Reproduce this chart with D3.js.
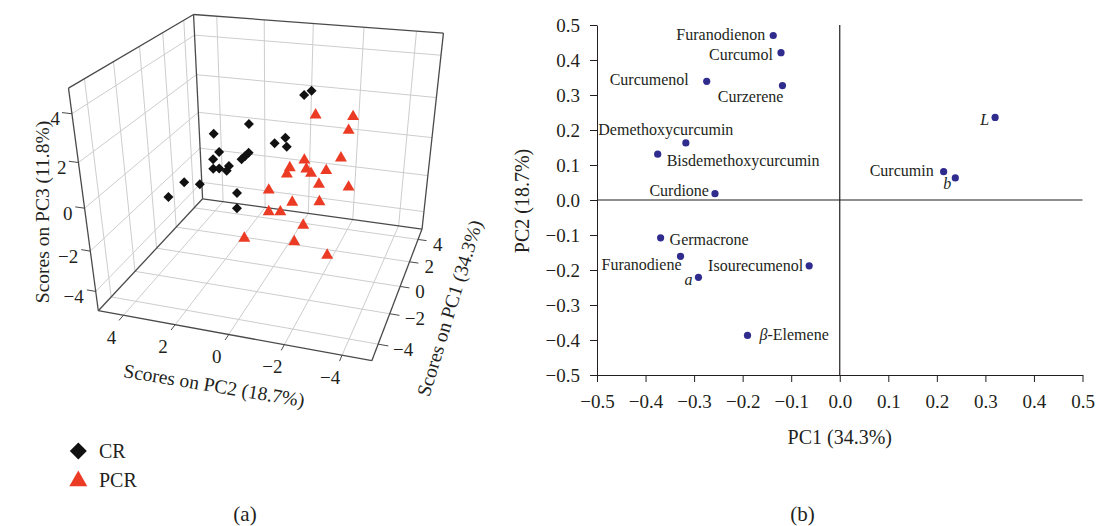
<!DOCTYPE html>
<html>
<head>
<meta charset="utf-8">
<script src="https://cdn.jsdelivr.net/npm/d3@7"></script>
<style>
  body { margin: 0; background: #fff; }
  text { font-family: "Liberation Serif", "Times New Roman", serif; fill: #231f20; }
</style>
</head>
<body>
<svg width="1096" height="526"></svg>
<script>
// ---------- panel (a): PCA scores ----------
var scoreTicks = [-4, -2, 0, 2, 4];
var crPC1 = [2.5, 2.2, 1.0, 0.5, 1.5, 2.0, 1.8, -0.5, 0.0, 0.8, 0.6, 0.4, -1.0, -0.8, -0.6, -0.2, -1.5, -1.2, -2.0, 0.2, -0.3];
var crPC2 = [-0.68, -0.48, 1.28, 2.50, 0.44, 0.17, 0.05, 1.91, 2.36, 1.24, 1.31, 1.38, 1.96, 1.81, 1.60, 1.66, 2.91, 2.43, 3.34, 1.52, 1.35];
var crPC3 = [2.76, 2.65, 1.55, 1.13, 0.51, 0.60, 0.26, 0.80, 0.15, 0.26, 0.18, 0.10, 0.24, 0.17, 0.00, 0.02, -0.31, -0.48, -0.83, -1.50, -1.98];
var pcrPC1 = [3.0, 3.5, 3.2, 1.5, 2.8, 1.0, 0.5, 1.2, 1.0, 2.0, 1.5, 2.5, -0.5, 0.0, 1.0, -1.0, -0.8, -1.5, -3.0, -2.5, -3.0];
var pcrPC2 = [-0.73, -2.09, -2.01, -0.74, -1.85, -0.32, -0.36, -0.91, -1.15, -1.48, -1.34, -2.28, 0.02, -0.73, -1.51, -0.14, -0.52, -1.59, 0.09, -1.56, -2.87];
var pcrPC3 = [1.41, 1.30, 0.74, -0.14, -0.49, -0.34, -0.40, -0.41, -0.49, -0.80, -1.26, -1.77, -0.73, -1.47, -1.86, -1.49, -1.54, -1.60, -1.65, -1.80, -1.87];

// ---------- panel (b): loadings ----------
var compounds = ["Furanodienon", "Curcumol", "Curcumenol", "Curzerene", "Demethoxycurcumin", "Bisdemethoxycurcumin", "Curdione", "Germacrone", "Furanodiene", "a", "Isourecumenol", "\u03b2-Elemene", "L", "Curcumin", "b"];
var loadPC1 = [-0.137, -0.121, -0.274, -0.118, -0.317, -0.375, -0.257, -0.369, -0.328, -0.291, -0.063, -0.190, 0.320, 0.214, 0.238];
var loadPC2 = [0.470, 0.421, 0.339, 0.327, 0.163, 0.131, 0.018, -0.108, -0.161, -0.221, -0.188, -0.387, 0.236, 0.081, 0.063];
var loadTicks = d3.range(-5, 6).map(function(d) { return d / 10; });

// label placement next to each dot: anchor, dx, dy
var labelPos = [["end", -8, -1], ["end", -8, 2], ["end", -18, -2], ["end", 1, 11], ["middle", -20, -13],
  ["start", 9, 7], ["end", -6, -3], ["start", 9, 2], ["end", 1, 8], ["end", -6, 2], ["end", -6, 0],
  ["start", 12, -1], ["end", -6, 2], ["end", -10, -1], ["middle", -8, 6]];
var italic = ["a", "b", "L"];

var svg = d3.select("svg");

// the 3D frame as seen in the picture: unit cube corners -> screen
var frame = [
  [[0, 1, 0], [98.3, 310.7]],
  [[0, 0, 0], [372, 360.5]],
  [[1, 0, 0], [422, 229.3]],
  [[1, 1, 0], [202.5, 198.7]],
  [[0, 1, 1], [68.3, 88.3]],
  [[1, 1, 1], [193.8, 14.5]],
  [[1, 0, 1], [443.3, 33]]
];

function solve(A, b) {
  var n = b.length, i, j, k;
  for (i = 0; i < n; i++) {
    var m = i;
    for (k = i + 1; k < n; k++) if (Math.abs(A[k][i]) > Math.abs(A[m][i])) m = k;
    var t = A[i]; A[i] = A[m]; A[m] = t;
    t = b[i]; b[i] = b[m]; b[m] = t;
    for (k = i + 1; k < n; k++) {
      var f = A[k][i] / A[i][i];
      for (j = i; j < n; j++) A[k][j] -= f * A[i][j];
      b[k] -= f * b[i];
    }
  }
  var x = [];
  for (i = n - 1; i >= 0; i--) {
    var s = b[i];
    for (j = i + 1; j < n; j++) s -= A[i][j] * x[j];
    x[i] = s / A[i][i];
  }
  return x;
}

// least squares fit of a perspective camera (DLT)
function fitProjection(pts) {
  var rows = [], rhs = [];
  pts.forEach(function(p) {
    var X = p[0][0], Y = p[0][1], Z = p[0][2], u = p[1][0], v = p[1][1];
    rows.push([X, Y, Z, 1, 0, 0, 0, 0, -u * X, -u * Y, -u * Z]); rhs.push(u);
    rows.push([0, 0, 0, 0, X, Y, Z, 1, -v * X, -v * Y, -v * Z]); rhs.push(v);
  });
  var M = [], r = [];
  for (var i = 0; i < 11; i++) {
    M[i] = [];
    r[i] = d3.sum(rows, function(row, k) { return row[i] * rhs[k]; });
    for (var j = 0; j < 11; j++) M[i][j] = d3.sum(rows, function(row) { return row[i] * row[j]; });
  }
  return solve(M, r);
}

var P = fitProjection(frame);
function proj(X, Y, Z) {
  var w = P[8] * X + P[9] * Y + P[10] * Z + 1;
  return [(P[0] * X + P[1] * Y + P[2] * Z + P[3]) / w, (P[4] * X + P[5] * Y + P[6] * Z + P[7]) / w];
}

var s1 = d3.scaleLinear().domain([-5, 5]).range([0, 1]),   // PC1: front -> back
    s2 = d3.scaleLinear().domain([-5, 5]).range([0, 1]),   // PC2: right -> left
    s3 = d3.scaleLinear().domain([-5, 5]).range([0, 1]);   // PC3: bottom -> top
function score(a, b, c) { return proj(s1(a), s2(b), s3(c)); }

var line = d3.line();
var pa = svg.append("g");
var grid = pa.append("g").attr("stroke", "#cdcdcd").attr("stroke-width", 1).attr("fill", "none");
function seg(g, a, b) { g.append("path").attr("d", line([proj(a[0], a[1], a[2]), proj(b[0], b[1], b[2])])); }

scoreTicks.forEach(function(t) {
  var a = s1(t), b = s2(t), c = s3(t);
  seg(grid, [a, 0, 0], [a, 1, 0]);   // floor
  seg(grid, [0, b, 0], [1, b, 0]);
  seg(grid, [a, 1, 0], [a, 1, 1]);   // left wall
  seg(grid, [0, 1, c], [1, 1, c]);
  seg(grid, [1, b, 0], [1, b, 1]);   // right wall
  seg(grid, [1, 0, c], [1, 1, c]);
});

var edges = pa.append("g").attr("stroke", "#4a4a4a").attr("stroke-width", 1.3).attr("fill", "none");
[[0, 1], [1, 2], [2, 3], [3, 0], [0, 4], [3, 5], [2, 6], [4, 5], [5, 6]].forEach(function(e) {
  seg(edges, frame[e[0]][0], frame[e[1]][0]);
});

var tk = pa.append("g").attr("stroke", "#4a4a4a").attr("stroke-width", 1);
var tl = pa.append("g").attr("font-size", 19);
var fmt = d3.format("d");
scoreTicks.forEach(function(t) {
  // PC3 on the front-left vertical edge
  seg(tk, [0, 1, s3(t)], [0, 1.035, s3(t)]);
  var p = proj(0, 1, s3(t));
  tl.append("text").attr("x", p[0] - 12).attr("y", p[1] + 5).attr("dy", "0.35em").attr("text-anchor", "end").text(fmt(t));
  // PC2 on the front floor edge
  seg(tk, [0, s2(t), 0], [-0.035, s2(t), 0]);
  p = proj(0, s2(t), 0);
  tl.append("text").attr("x", p[0] - 12).attr("y", p[1] + 22).attr("dy", "0.35em").attr("text-anchor", "middle").text(fmt(t));
  // PC1 on the right floor edge
  seg(tk, [s1(t), 0, 0], [s1(t), -0.035, 0]);
  p = proj(s1(t), 0, 0);
  tl.append("text").attr("x", p[0] + 15).attr("y", p[1] + 5).attr("dy", "0.35em").attr("text-anchor", "start").text(fmt(t));
});

pa.append("text").attr("transform", "translate(49,212) rotate(-90)").attr("text-anchor", "middle").attr("font-size", 19.5).text("Scores on PC3 (11.8%)");
pa.append("text").attr("transform", "translate(213,392) rotate(9.5)").attr("text-anchor", "middle").attr("font-size", 19.5).text("Scores on PC2 (18.7%)");
pa.append("text").attr("transform", "translate(456,310) rotate(-73)").attr("text-anchor", "middle").attr("font-size", 19.5).text("Scores on PC1 (34.3%)");

var diamond = d3.symbol(d3.symbolSquare, 50), tri = d3.symbol(d3.symbolTriangle, 62);
pa.selectAll(".cr").data(crPC1).enter().append("path")
  .attr("transform", function(d, i) { return "translate(" + score(crPC1[i], crPC2[i], crPC3[i]) + ") rotate(45)"; })
  .attr("d", diamond).attr("fill", "#111");
pa.selectAll(".pcr").data(pcrPC1).enter().append("path")
  .attr("transform", function(d, i) { return "translate(" + score(pcrPC1[i], pcrPC2[i], pcrPC3[i]) + ")"; })
  .attr("d", tri).attr("fill", "#ec3b24");

// legend
pa.append("path").attr("transform", "translate(78.3,451) rotate(45)").attr("d", d3.symbol(d3.symbolSquare, 144)).attr("fill", "#111");
pa.append("text").attr("x", 99).attr("y", 458).attr("font-size", 20).text("CR");
pa.append("path").attr("transform", "translate(78.3,481)").attr("d", d3.symbol(d3.symbolTriangle, 140)).attr("fill", "#ec3b24");
pa.append("text").attr("x", 99).attr("y", 487).attr("font-size", 20).text("PCR");
pa.append("text").attr("x", 245).attr("y", 521).attr("text-anchor", "middle").attr("font-size", 21).text("(a)");

// ---------- panel (b) ----------
var x = d3.scaleLinear().domain([-0.5, 0.5]).range([597, 1082.5]),
    y = d3.scaleLinear().domain([-0.5, 0.5]).range([375, 25]);
var pb = svg.append("g");

pb.append("g").attr("transform", "translate(0,375)")
  .call(d3.axisBottom(x).tickValues(loadTicks).tickFormat(d3.format(".1f")).tickSize(7).tickSizeOuter(0).tickPadding(13))
  .attr("font-family", null).attr("font-size", 19).attr("color", "#231f20");
pb.append("g").attr("transform", "translate(597,0)")
  .call(d3.axisLeft(y).tickValues(loadTicks).tickFormat(d3.format(".1f")).tickSize(7).tickSizeOuter(0).tickPadding(10))
  .attr("font-family", null).attr("font-size", 19).attr("color", "#231f20");

pb.append("line").attr("x1", x(0)).attr("x2", x(0)).attr("y1", y(0.5)).attr("y2", y(-0.5)).attr("stroke", "#231f20").attr("stroke-width", 1.2);
pb.append("line").attr("x1", x(-0.5)).attr("x2", x(0.5)).attr("y1", y(0)).attr("y2", y(0)).attr("stroke", "#231f20").attr("stroke-width", 1.2);

pb.selectAll(".dot").data(compounds).enter().append("circle")
  .attr("cx", function(d, i) { return x(loadPC1[i]); })
  .attr("cy", function(d, i) { return y(loadPC2[i]); })
  .attr("r", 3.6).attr("fill", "#302c8e");

pb.selectAll(".lab").data(compounds).enter().append("text")
  .attr("x", function(d, i) { return x(loadPC1[i]) + labelPos[i][1]; })
  .attr("y", function(d, i) { return y(loadPC2[i]) + labelPos[i][2]; })
  .attr("dy", "0.33em").attr("font-size", 16)
  .attr("text-anchor", function(d, i) { return labelPos[i][0]; })
  .attr("font-style", function(d) { return italic.indexOf(d) >= 0 ? "italic" : null; })
  .each(function(d) {
    if (d.charAt(0) === "\u03b2") {
      d3.select(this).append("tspan").attr("font-style", "italic").text("\u03b2");
      d3.select(this).append("tspan").text(d.slice(1));
    } else d3.select(this).text(d);
  });

pb.append("text").attr("x", x(0)).attr("y", 444).attr("text-anchor", "middle").attr("font-size", 20).text("PC1 (34.3%)");
pb.append("text").attr("transform", "translate(529,201) rotate(-90)").attr("text-anchor", "middle").attr("font-size", 20).text("PC2 (18.7%)");
pb.append("text").attr("x", 802.5).attr("y", 521).attr("text-anchor", "middle").attr("font-size", 21).text("(b)");
</script>
</body>
</html>
